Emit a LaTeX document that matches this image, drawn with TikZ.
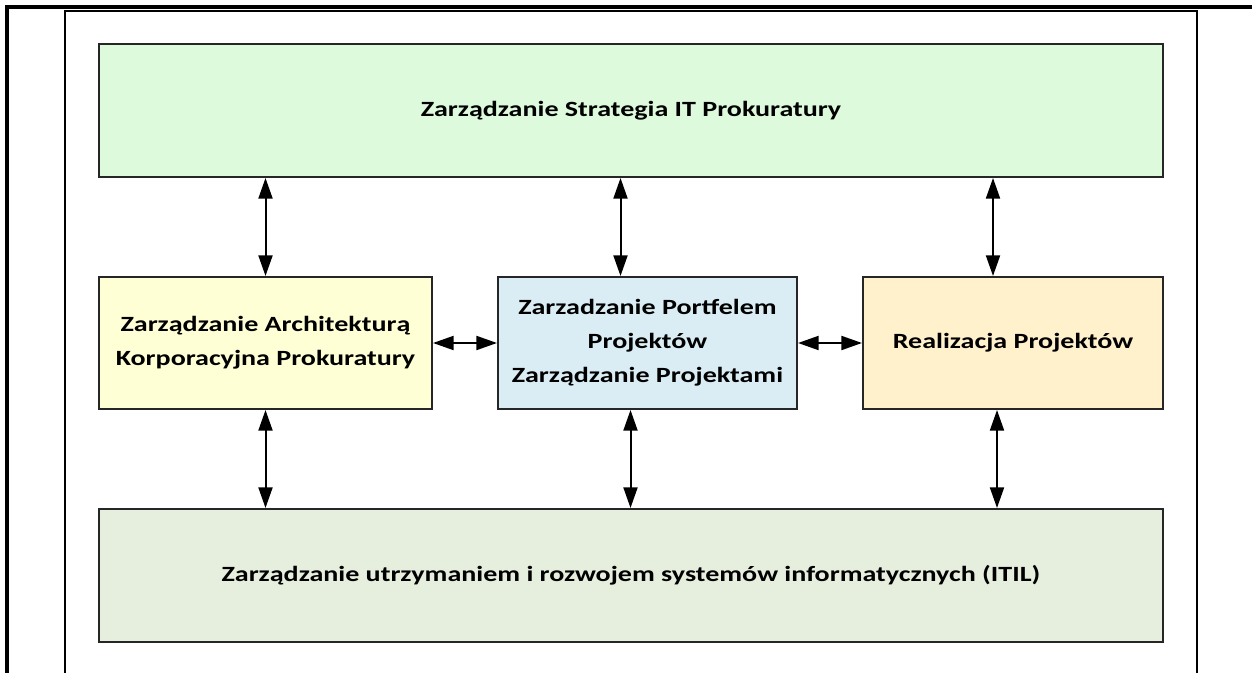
\documentclass[tikz,border=0pt]{standalone}
\usepackage{fontspec}
\setmainfont[FakeStretch=1.29]{Carlito}
\usetikzlibrary{arrows.meta,calc}

\definecolor{strgreen}{RGB}{221,250,220}
\definecolor{archyellow}{RGB}{255,255,214}
\definecolor{portblue}{RGB}{218,237,244}
\definecolor{realorange}{RGB}{255,241,204}
\definecolor{itilgreen}{RGB}{230,238,221}

\tikzset{
	box/.style={draw=black!85, line width=1.5pt, align=center, inner sep=0pt,
		font=\fontsize{16.3pt}{25.5pt}\selectfont\bfseries},
	biarrow/.style={line width=1.5pt, {Triangle[length=15.5pt,width=10.5pt]}-{Triangle[length=15.5pt,width=10.5pt]}}
}

\begin{document}
\begin{tikzpicture}[x=0.75pt,y=-0.75pt]
	\useasboundingbox (0,0) rectangle (1252,673);
	% page frame
	\draw[line width=3pt] (5,7) -- (1252,7);
	\draw[line width=3pt] (7,5) -- (7,673);
	\draw[line width=1.5pt] (65,673) -- (65,11) -- (1197,11) -- (1197,673);
	
	% boxes
	\node[box, fill=strgreen, minimum width=798pt, minimum height=99.75pt] (strat) at (631,110.5) {Zarządzanie Strategia IT Prokuratury};
	\node[box, fill=archyellow, minimum width=249.75pt, minimum height=99pt] (arch) at (265.5,343) {Zarządzanie Architekturą\\Korporacyjna Prokuratury};
	\node[box, fill=portblue, minimum width=224.25pt, minimum height=99pt] (port) at (647.5,343) {Zarzadzanie Portfelem\\Projektów\\Zarządzanie Projektami};
	\node[box, fill=realorange, minimum width=225pt, minimum height=99pt] (real) at (1013,343) {Realizacja Projektów};
	\node[box, fill=itilgreen, minimum width=798pt, minimum height=99.75pt] (itil) at (631,575.5) {Zarządzanie utrzymaniem i rozwojem systemów informatycznych (ITIL)};
	
	% connectors
	\coordinate (p1) at ($(port.north)+(-27,0)$);
	\coordinate (p2) at ($(port.south)+(-17,0)$);
	\coordinate (r1) at ($(real.north)+(-20,0)$);
	\coordinate (r2) at ($(real.south)+(-16,0)$);
	\draw[biarrow] (arch.north |- strat.south) -- (arch.north);
	\draw[biarrow] (p1 |- strat.south) -- (p1);
	\draw[biarrow] (r1 |- strat.south) -- (r1);
	\draw[biarrow] (arch.east) -- (port.west);
	\draw[biarrow] (port.east) -- (real.west);
	\draw[biarrow] (arch.south) -- (arch.south |- itil.north);
	\draw[biarrow] (p2) -- (p2 |- itil.north);
	\draw[biarrow] (r2) -- (r2 |- itil.north);
\end{tikzpicture}
\end{document}
